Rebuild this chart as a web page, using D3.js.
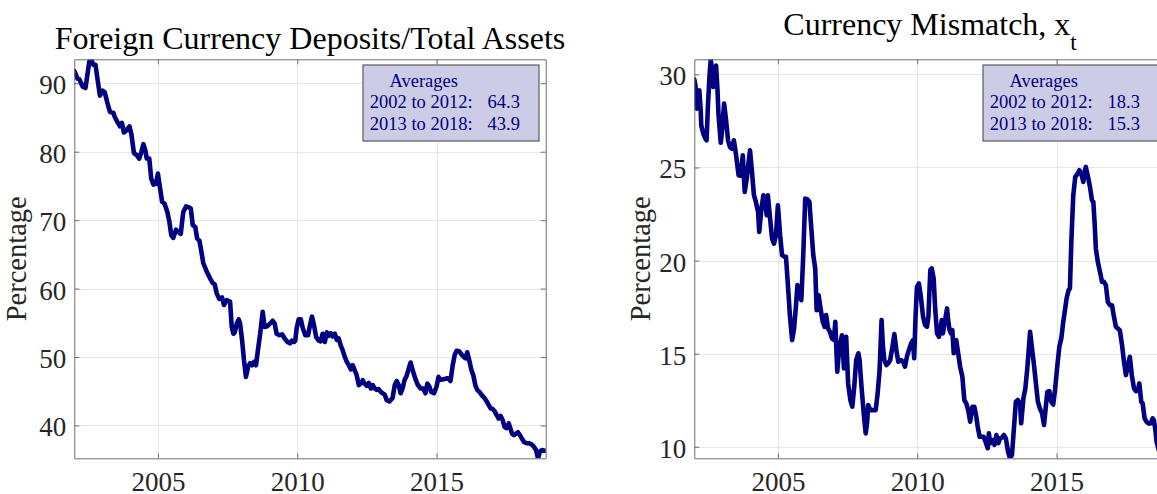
<!DOCTYPE html>
<html>
<head>
<meta charset="utf-8">
<script src="https://cdn.jsdelivr.net/npm/d3@7"></script>
<style>
  html, body { margin: 0; padding: 0; background: #ffffff; }
  svg { display: block; }
</style>
</head>
<body>
<svg id="chart" width="1157" height="494"></svg>
<script>
// Monthly sample window (January 2002 to December 2018)
const sampleStart = 2002;
const sampleEnd = 2018 + 11 / 12;

// Foreign currency deposits as a share of total assets, % ([decimal year, value])
const fcdSeries = [
  [2002.00, 91.8], [2002.11, 90.7], [2002.18, 90.6], [2002.30, 89.5], [2002.40, 89.3],
  [2002.54, 93.2], [2002.61, 93.5], [2002.68, 92.7], [2002.76, 92.7], [2002.83, 90.7],
  [2002.92, 88.2], [2003.02, 88.9], [2003.09, 88.7], [2003.19, 87.1], [2003.28, 85.8],
  [2003.40, 85.7], [2003.45, 85.1], [2003.54, 84.4], [2003.64, 83.7], [2003.71, 84.2],
  [2003.78, 82.8], [2003.86, 83.1], [2003.98, 83.7], [2004.05, 82.5], [2004.14, 79.8],
  [2004.24, 79.5], [2004.33, 79.0], [2004.41, 80.0], [2004.48, 81.1], [2004.55, 80.2],
  [2004.60, 79.0], [2004.69, 79.0], [2004.76, 76.1], [2004.84, 75.2], [2004.93, 75.3],
  [2005.00, 76.8], [2005.08, 74.6], [2005.15, 72.7], [2005.24, 72.4], [2005.34, 71.2],
  [2005.41, 69.8], [2005.48, 67.8], [2005.55, 67.4], [2005.65, 68.6], [2005.72, 68.3],
  [2005.82, 68.0], [2005.91, 71.2], [2006.01, 72.0], [2006.10, 71.9], [2006.18, 71.7],
  [2006.25, 69.3], [2006.34, 69.0], [2006.41, 67.3], [2006.49, 67.0], [2006.56, 65.4],
  [2006.63, 63.7], [2006.75, 62.5], [2006.87, 61.5], [2006.97, 60.8], [2007.04, 60.6],
  [2007.11, 59.3], [2007.20, 58.5], [2007.30, 58.7], [2007.37, 57.6], [2007.47, 58.3],
  [2007.59, 58.1], [2007.65, 54.4], [2007.71, 53.4], [2007.76, 53.6], [2007.83, 54.9],
  [2007.90, 55.5], [2007.95, 54.9], [2008.02, 52.5], [2008.09, 49.5], [2008.16, 47.1],
  [2008.24, 48.6], [2008.31, 49.1], [2008.38, 48.8], [2008.45, 49.3], [2008.52, 48.8],
  [2008.59, 51.0], [2008.67, 53.4], [2008.76, 56.6], [2008.83, 54.4], [2008.93, 54.5],
  [2009.03, 54.9], [2009.12, 55.3], [2009.19, 54.9], [2009.26, 53.4], [2009.36, 53.2],
  [2009.46, 53.3], [2009.55, 52.7], [2009.65, 52.2], [2009.74, 52.0], [2009.81, 52.4],
  [2009.89, 52.2], [2009.93, 52.4], [2009.98, 54.2], [2010.05, 55.5], [2010.13, 55.5],
  [2010.20, 54.2], [2010.29, 53.2], [2010.39, 53.2], [2010.46, 54.7], [2010.53, 55.9],
  [2010.60, 54.7], [2010.68, 52.9], [2010.77, 52.4], [2010.84, 52.3], [2010.91, 53.4],
  [2010.99, 52.2], [2011.06, 53.6], [2011.13, 53.1], [2011.20, 53.5], [2011.27, 53.0],
  [2011.35, 53.4], [2011.42, 52.5], [2011.49, 52.7], [2011.56, 51.7], [2011.63, 51.0],
  [2011.70, 50.1], [2011.78, 49.3], [2011.85, 48.8], [2011.92, 48.2], [2011.99, 48.8],
  [2012.06, 48.1], [2012.13, 47.4], [2012.21, 45.9], [2012.28, 46.1], [2012.35, 46.6],
  [2012.42, 46.1], [2012.49, 45.8], [2012.57, 46.2], [2012.64, 45.4], [2012.71, 45.9],
  [2012.78, 45.4], [2012.85, 45.2], [2012.92, 45.3], [2013.00, 44.9], [2013.07, 44.7],
  [2013.14, 44.5], [2013.21, 43.7], [2013.31, 43.5], [2013.42, 44.0], [2013.50, 45.9],
  [2013.57, 46.5], [2013.64, 45.9], [2013.71, 44.7], [2013.78, 45.4], [2013.85, 46.6],
  [2013.93, 47.3], [2014.00, 48.3], [2014.07, 49.2], [2014.14, 48.1], [2014.24, 46.8],
  [2014.33, 45.9], [2014.43, 45.4], [2014.52, 45.4], [2014.60, 44.7], [2014.67, 46.1],
  [2014.74, 45.7], [2014.81, 44.9], [2014.91, 44.7], [2015.00, 45.7], [2015.07, 47.1],
  [2015.12, 46.7], [2015.19, 46.7], [2015.29, 46.8], [2015.39, 46.9], [2015.46, 46.7],
  [2015.50, 46.5], [2015.58, 48.8], [2015.65, 50.3], [2015.72, 50.9], [2015.82, 50.8],
  [2015.91, 50.3], [2015.98, 50.0], [2016.05, 49.8], [2016.10, 50.7], [2016.17, 49.6],
  [2016.25, 48.1], [2016.32, 47.3], [2016.39, 45.9], [2016.46, 45.2], [2016.56, 44.8],
  [2016.63, 44.4], [2016.72, 44.0], [2016.80, 43.5], [2016.87, 43.0], [2016.94, 42.5],
  [2017.01, 42.4], [2017.08, 42.1], [2017.16, 41.5], [2017.23, 41.0], [2017.30, 41.4],
  [2017.37, 40.8], [2017.44, 39.8], [2017.51, 39.6], [2017.59, 40.3], [2017.63, 39.8],
  [2017.71, 38.8], [2017.78, 38.6], [2017.85, 38.8], [2017.92, 39.0], [2017.99, 38.6],
  [2018.06, 38.1], [2018.14, 37.6], [2018.23, 37.4], [2018.33, 37.4], [2018.42, 37.2],
  [2018.49, 36.9], [2018.57, 36.4], [2018.64, 35.2], [2018.71, 36.2], [2018.78, 36.4],
  [2018.88, 36.3], [2018.92, 36.3]
];

// Currency mismatch x_t, % ([decimal year, value])
const mismatchSeries = [
  [2002.00, 29.73], [2002.04, 29.41], [2002.09, 28.16], [2002.13, 29.05], [2002.18, 29.14],
  [2002.23, 28.07], [2002.25, 27.26], [2002.32, 26.82], [2002.40, 26.55], [2002.44, 26.46],
  [2002.49, 28.34], [2002.54, 29.77], [2002.59, 30.81], [2002.64, 30.13], [2002.68, 29.32],
  [2002.73, 29.95], [2002.78, 30.48], [2002.83, 29.23], [2002.87, 27.80], [2002.95, 26.33],
  [2002.99, 26.91], [2003.07, 28.43], [2003.14, 27.53], [2003.21, 26.46], [2003.28, 26.10],
  [2003.35, 26.01], [2003.42, 26.46], [2003.50, 25.66], [2003.59, 24.58], [2003.66, 24.55],
  [2003.74, 25.66], [2003.81, 23.69], [2003.88, 24.40], [2003.95, 25.30], [2004.00, 25.92],
  [2004.07, 24.76], [2004.14, 23.51], [2004.21, 23.15], [2004.29, 22.61], [2004.33, 21.54],
  [2004.41, 22.79], [2004.48, 23.51], [2004.55, 23.06], [2004.60, 22.43], [2004.64, 23.51],
  [2004.72, 22.26], [2004.79, 21.18], [2004.86, 20.91], [2004.93, 21.36], [2005.00, 22.97],
  [2005.08, 21.36], [2005.15, 20.29], [2005.24, 20.20], [2005.29, 20.20], [2005.36, 18.68],
  [2005.43, 17.07], [2005.51, 15.73], [2005.58, 16.35], [2005.65, 17.60], [2005.70, 18.68],
  [2005.77, 18.32], [2005.84, 17.87], [2005.91, 20.29], [2005.98, 23.33], [2006.06, 23.29],
  [2006.13, 23.15], [2006.20, 21.72], [2006.27, 20.29], [2006.34, 19.57], [2006.39, 17.34],
  [2006.46, 18.14], [2006.53, 17.43], [2006.61, 16.71], [2006.68, 16.44], [2006.73, 17.07],
  [2006.80, 16.35], [2006.87, 16.17], [2006.94, 15.82], [2007.01, 15.73], [2007.06, 16.71],
  [2007.13, 14.03], [2007.20, 15.28], [2007.30, 15.99], [2007.37, 14.21], [2007.45, 15.90],
  [2007.52, 13.40], [2007.60, 12.51], [2007.67, 12.15], [2007.74, 13.23], [2007.81, 14.66],
  [2007.89, 15.02], [2007.93, 14.66], [2008.00, 13.23], [2008.08, 11.80], [2008.15, 10.72],
  [2008.20, 11.26], [2008.24, 12.24], [2008.32, 11.97], [2008.41, 11.97], [2008.51, 11.97],
  [2008.58, 12.87], [2008.65, 14.12], [2008.72, 16.80], [2008.77, 15.37], [2008.82, 14.66],
  [2008.89, 14.39], [2008.96, 14.48], [2009.03, 14.66], [2009.11, 15.37], [2009.18, 16.05],
  [2009.25, 15.19], [2009.32, 14.57], [2009.42, 14.66], [2009.49, 14.57], [2009.56, 14.30],
  [2009.63, 14.84], [2009.70, 15.19], [2009.78, 15.55], [2009.85, 15.73], [2009.89, 14.75],
  [2009.94, 16.98], [2009.99, 18.59], [2010.06, 18.77], [2010.13, 18.06], [2010.21, 16.98],
  [2010.28, 16.54], [2010.35, 16.45], [2010.40, 16.98], [2010.47, 19.49], [2010.52, 19.58],
  [2010.59, 19.04], [2010.64, 17.52], [2010.71, 16.09], [2010.78, 15.91], [2010.83, 16.27],
  [2010.88, 16.80], [2010.92, 16.09], [2011.00, 16.80], [2011.07, 17.43], [2011.11, 16.80],
  [2011.16, 16.27], [2011.21, 16.09], [2011.26, 16.27], [2011.31, 15.02], [2011.35, 15.64],
  [2011.40, 15.73], [2011.47, 15.02], [2011.54, 14.30], [2011.62, 13.76], [2011.69, 12.51],
  [2011.76, 12.33], [2011.83, 11.97], [2011.90, 11.35], [2011.98, 12.15], [2012.05, 12.15],
  [2012.12, 11.62], [2012.17, 11.08], [2012.24, 10.54], [2012.31, 10.54], [2012.38, 10.54],
  [2012.45, 10.28], [2012.53, 9.92], [2012.57, 10.72], [2012.62, 10.19], [2012.69, 10.36],
  [2012.77, 10.10], [2012.84, 10.63], [2012.91, 10.19], [2012.97, 10.45], [2013.04, 10.49],
  [2013.11, 10.63], [2013.18, 10.45], [2013.26, 9.73], [2013.33, 9.38], [2013.40, 9.56],
  [2013.47, 10.99], [2013.54, 12.42], [2013.61, 12.51], [2013.69, 12.33], [2013.73, 11.26],
  [2013.81, 12.60], [2013.88, 13.13], [2013.95, 14.21], [2014.05, 16.17], [2014.12, 15.28],
  [2014.19, 14.39], [2014.26, 13.40], [2014.33, 12.42], [2014.40, 12.06], [2014.48, 11.79],
  [2014.55, 11.17], [2014.62, 12.24], [2014.67, 12.95], [2014.74, 12.99], [2014.81, 12.42],
  [2014.88, 12.27], [2014.95, 13.13], [2015.03, 14.39], [2015.10, 15.37], [2015.17, 15.82],
  [2015.24, 16.71], [2015.31, 17.43], [2015.36, 17.96], [2015.43, 18.41], [2015.48, 18.50],
  [2015.53, 21.00], [2015.60, 23.51], [2015.67, 24.49], [2015.74, 24.62], [2015.82, 24.85],
  [2015.89, 24.67], [2015.96, 24.22], [2016.01, 24.76], [2016.05, 25.03], [2016.13, 24.49],
  [2016.20, 23.95], [2016.27, 23.24], [2016.32, 23.15], [2016.37, 21.90], [2016.41, 20.65],
  [2016.48, 19.93], [2016.56, 19.39], [2016.63, 18.86], [2016.70, 18.86], [2016.77, 18.68],
  [2016.84, 17.78], [2016.92, 17.60], [2016.99, 17.60], [2017.06, 16.98], [2017.13, 16.44],
  [2017.20, 16.35], [2017.27, 16.26], [2017.35, 15.46], [2017.42, 14.56], [2017.49, 13.85],
  [2017.56, 14.39], [2017.63, 14.83], [2017.70, 13.85], [2017.78, 13.13], [2017.85, 12.99],
  [2017.92, 13.04], [2017.97, 13.40], [2018.04, 12.42], [2018.09, 12.33], [2018.16, 11.52],
  [2018.23, 11.34], [2018.30, 11.25], [2018.38, 11.25], [2018.45, 11.52], [2018.49, 11.43],
  [2018.54, 10.99], [2018.59, 10.27], [2018.67, 9.80]
];

// Tick values
const xTickYears = [2005, 2010, 2015];
const fcdTicks = [40, 50, 60, 70, 80, 90];
const mismatchTicks = [10, 15, 20, 25, 30];

// Text boxes with sub-period averages
const averageHeading = "Averages";
const averagePeriods = ["2002 to 2012:", "2013 to 2018:"];
const fcdAverages = [64.3, 43.9];
const mismatchAverages = [18.3, 15.3];

// Layout and styling
const serif = "'Liberation Serif', 'Times New Roman', Times, serif";
const plotTop = 59.3, plotBottom = 458.3, plotWidth = 471.4;
const axisColor = "#6e6e6e", gridColor = "#e6e6e6", labelColor = "#262626";
const lineColor = "#000080";

const panels = [
  { id: "fcd", series: fcdSeries, yTicks: fcdTicks, averages: fcdAverages,
    left: 74.3, title: "Foreign Currency Deposits/Total Assets", sub: null,
    titleBaseline: 49, ylabelX: 26 },
  { id: "mismatch", series: mismatchSeries, yTicks: mismatchTicks, averages: mismatchAverages,
    left: 694.3, title: "Currency Mismatch, x", sub: "t",
    titleBaseline: 35, ylabelX: 650 }
];

const svg = d3.select("#chart");
svg.append("rect").attr("width", 1157).attr("height", 494).attr("fill", "#ffffff");

panels.forEach(p => {
  const x = d3.scaleLinear().domain([sampleStart, sampleEnd]).range([p.left, p.left + plotWidth]);
  const y = d3.scaleLinear().domain(d3.extent(p.series, d => d[1])).range([plotBottom, plotTop]);
  const g = svg.append("g").attr("class", "panel-" + p.id);

  // clip region for the series line
  g.append("clipPath").attr("id", "clip-" + p.id)
    .append("rect")
    .attr("x", p.left).attr("y", plotTop)
    .attr("width", plotWidth).attr("height", plotBottom - plotTop);

  // grid
  g.append("g").selectAll("line.vgrid").data(xTickYears).join("line")
    .attr("x1", d => Math.round(x(d)) + 0.5).attr("x2", d => Math.round(x(d)) + 0.5)
    .attr("y1", plotTop).attr("y2", plotBottom)
    .attr("stroke", gridColor).attr("stroke-width", 1);
  g.append("g").selectAll("line.hgrid").data(p.yTicks).join("line")
    .attr("x1", p.left).attr("x2", p.left + plotWidth)
    .attr("y1", d => Math.round(y(d)) + 0.5).attr("y2", d => Math.round(y(d)) + 0.5)
    .attr("stroke", gridColor).attr("stroke-width", 1);

  // series line
  const line = d3.line().x(d => x(d[0])).y(d => y(d[1]));
  g.append("path").datum(p.series)
    .attr("clip-path", "url(#clip-" + p.id + ")")
    .attr("d", line)
    .attr("fill", "none")
    .attr("stroke", lineColor)
    .attr("stroke-width", 4.6)
    .attr("stroke-linejoin", "round")
    .attr("stroke-linecap", "round");

  // axes box with inward ticks
  const styleAxis = sel => {
    sel.attr("font-family", serif).attr("font-size", 27);
    sel.select(".domain").attr("stroke", axisColor);
    sel.selectAll(".tick line").attr("stroke", axisColor);
    sel.selectAll(".tick text").attr("fill", labelColor);
  };
  const bottom = g.append("g").attr("transform", `translate(0,${plotBottom})`)
    .call(d3.axisBottom(x).tickValues(xTickYears).tickFormat(d3.format("d"))
      .tickSizeInner(-5).tickSizeOuter(0).tickPadding(0));
  styleAxis(bottom);
  bottom.selectAll(".tick text").attr("y", 33).attr("dy", 0);

  const leftAxis = g.append("g").attr("transform", `translate(${p.left},0)`)
    .call(d3.axisLeft(y).tickValues(p.yTicks).tickFormat(d3.format("d"))
      .tickSizeInner(-5).tickSizeOuter(0).tickPadding(8));
  styleAxis(leftAxis);
  leftAxis.selectAll(".tick text").attr("x", -8).attr("dy", 10.5);

  const topAxis = g.append("g").attr("transform", `translate(0,${plotTop})`)
    .call(d3.axisTop(x).tickValues(xTickYears).tickFormat("").tickSizeInner(-5).tickSizeOuter(0));
  styleAxis(topAxis);

  const rightAxis = g.append("g").attr("transform", `translate(${p.left + plotWidth},0)`)
    .call(d3.axisRight(y).tickValues(p.yTicks).tickFormat("").tickSizeInner(-5).tickSizeOuter(0));
  styleAxis(rightAxis);

  // y-axis label
  g.append("text")
    .attr("transform", `translate(${p.ylabelX},${(plotTop + plotBottom) / 2}) rotate(-90)`)
    .attr("text-anchor", "middle")
    .attr("font-family", serif).attr("font-size", 28.5)
    .attr("fill", labelColor)
    .text("Percentage");

  // title
  const title = g.append("text")
    .attr("x", p.left + plotWidth / 2).attr("y", p.titleBaseline)
    .attr("text-anchor", "middle")
    .attr("font-family", serif).attr("font-size", 32)
    .attr("fill", "#000000");
  title.append("tspan").text(p.title);
  if (p.sub) {
    title.append("tspan").attr("dy", 15).attr("font-size", 23).text(p.sub);
  }

  // averages box
  const bx = p.left + 288.7, by = 65;
  const box = g.append("g");
  box.append("rect")
    .attr("x", bx).attr("y", by).attr("width", 176).attr("height", 76)
    .attr("fill", "#ccccE6").attr("stroke", "#5a5a5a").attr("stroke-width", 1.2);
  box.append("text")
    .attr("x", bx + 26.5).attr("y", by + 21.7)
    .attr("font-family", serif).attr("font-size", 18.5).attr("fill", lineColor)
    .text(averageHeading);
  box.selectAll("text.period").data(averagePeriods).join("text")
    .attr("class", "period")
    .attr("x", bx + 6.8).attr("y", (d, i) => by + 43.3 + i * 22)
    .attr("font-family", serif).attr("font-size", 18.5).attr("fill", lineColor)
    .text(d => d);
  box.selectAll("text.avg").data(p.averages).join("text")
    .attr("class", "avg")
    .attr("x", bx + 124.5).attr("y", (d, i) => by + 43.3 + i * 22)
    .attr("font-family", serif).attr("font-size", 18.5).attr("fill", lineColor)
    .text(d => d3.format(".1f")(d));
});
</script>
</body>
</html>
